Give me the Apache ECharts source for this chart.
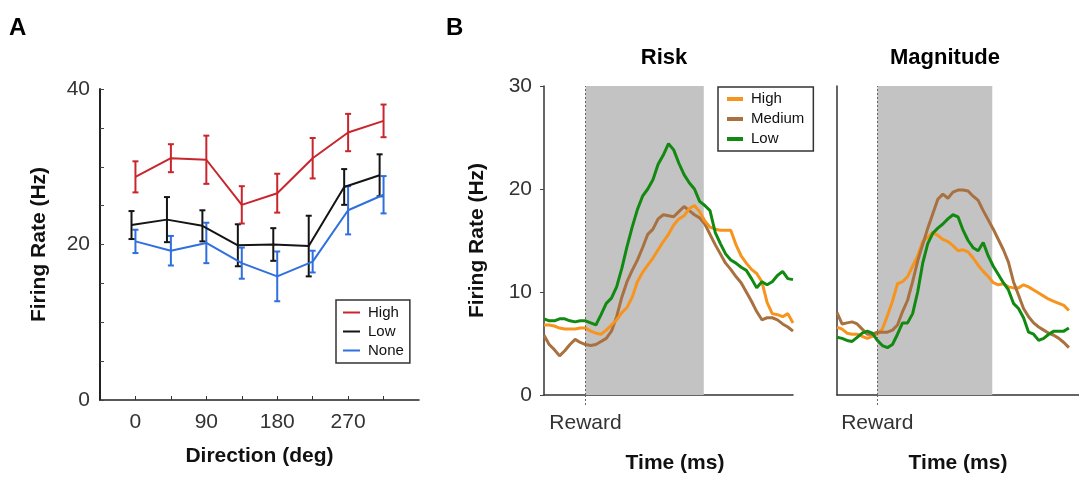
<!DOCTYPE html>
<html>
<head>
<meta charset="utf-8">
<script src="https://cdn.jsdelivr.net/npm/echarts@6/dist/echarts.min.js"></script>
<style>
html,body{margin:0;padding:0;background:#fff;}
#chart{width:1079px;height:479px;}
</style>
</head>
<body>
<div id="chart"></div>
<script>
// ---------- Panel A data ----------
var directions = [0, 45, 90, 135, 180, 225, 270, 315];
var dirTickLabels = [0, 90, 180, 270];
var rateTickLabelsA = [0, 20, 40];
var seriesNamesA = ['High', 'Low', 'None'];
var highMean = [28.7, 31.1, 30.9, 25.1, 26.6, 31.1, 34.4, 35.9];
var highErr  = [2.0, 1.8, 3.1, 2.4, 2.5, 2.6, 2.4, 2.1];
var lowMean  = [22.5, 23.2, 22.4, 19.9, 20.0, 19.8, 27.4, 28.9];
var lowErr   = [1.8, 2.9, 2.0, 2.7, 2.1, 3.9, 2.3, 2.7];
var noneMean = [20.4, 19.2, 20.2, 17.6, 15.9, 17.8, 24.4, 26.4];
var noneErr  = [1.5, 1.9, 2.6, 2.0, 3.2, 1.4, 3.1, 2.4];

// ---------- Panel B data ----------
var timeMs = [-200,-175,-150,-125,-100,-75,-50,-25,0,25,50,75,100,125,150,175,200,225,250,275,300,325,350,375,400,425,450,475,500,525,550,575,600,625,650,675,700,725,750,775,800,825,850,875,900,925,950,975,1000];
var rewardWindow = [0, 570];
var seriesNamesB = ['High', 'Medium', 'Low'];
var riskHigh = [6.8,6.8,6.7,6.5,6.4,6.4,6.4,6.5,6.5,6.2,6.0,5.9,6.3,6.8,7.3,8.0,8.5,9.5,11.0,11.9,12.6,13.3,14.1,14.9,15.6,16.5,17.1,17.4,18.1,18.4,17.8,16.9,16.3,16.1,16.0,16.0,16.0,14.6,13.5,12.8,12.2,11.8,11.0,9.0,7.9,7.8,7.6,7.9,7.0];
var riskMedium = [5.8,4.9,4.4,3.8,4.3,4.9,5.4,5.1,4.9,4.8,4.9,5.2,5.5,6.2,7.6,9.5,11.0,12.1,13.1,14.3,15.6,16.1,17.1,17.5,17.4,17.3,17.8,18.3,17.9,17.5,17.2,16.6,15.6,14.6,13.7,12.8,12.2,11.5,10.9,10.0,9.1,8.1,7.3,7.5,7.5,7.3,6.9,6.6,6.2];
var riskLow = [7.4,7.2,7.2,7.4,7.4,7.2,7.1,7.2,7.2,7.0,6.8,7.8,8.9,9.4,10.5,12.3,14.4,16.3,18.0,19.3,20.0,20.9,22.4,23.3,24.4,23.8,22.5,21.4,20.6,20.0,18.8,18.4,17.9,15.8,14.7,13.7,13.1,12.8,12.4,12.1,11.3,10.4,11.0,10.7,11.0,11.6,12.0,11.3,11.2];
var magHigh = [6.6,6.4,6.0,5.9,5.9,5.7,5.5,5.7,5.9,6.4,7.7,9.1,10.8,11.0,11.5,12.5,13.5,14.9,15.3,15.8,15.5,15.1,14.9,14.5,14.0,14.1,13.9,13.3,12.6,12.0,11.5,10.9,10.7,10.8,10.5,10.4,10.4,10.7,10.5,10.2,9.9,9.6,9.3,9.1,8.9,8.7,8.2];
var magMedium = [8.0,6.9,7.0,7.1,6.9,6.4,5.9,5.9,6.1,6.1,6.1,6.3,6.8,8.1,9.2,11.0,13.0,14.6,16.2,17.6,19.0,19.5,19.1,19.7,19.9,19.9,19.8,19.3,18.9,17.9,17.0,16.1,15.1,14.1,12.9,11.0,9.7,8.4,7.6,7.0,6.6,6.3,6.0,5.8,5.5,5.1,4.6];
var magLow = [5.6,5.5,5.3,5.2,5.6,6.0,6.2,6.0,5.3,4.8,4.6,4.9,5.9,7.0,7.0,7.9,10.0,12.8,14.7,15.7,16.2,16.6,17.1,17.5,17.3,16.0,15.0,14.3,14.0,14.8,13.5,12.5,11.7,10.9,10.2,8.9,8.4,7.5,6.1,5.9,5.3,5.5,5.9,6.2,6.2,6.2,6.5];
var rateTicksB = [0, 10, 20, 30];

// ---------- styles ----------
var FONT = "'Liberation Sans', Arial, sans-serif";
var colA = {High: '#c8262c', Low: '#141414', None: '#2f6fe0'};
var colB = {High: '#f7941d', Medium: '#a8713f', Low: '#128a12'};
var lowOffset = -5; // slight horizontal dodge of the Low series in panel A

function pairs(xs, ys, off) {
  var out = [];
  for (var i = 0; i < ys.length; i++) out.push([xs[i] + (off || 0), ys[i]]);
  return out;
}
function errData(xs, m, e, off) {
  var out = [];
  for (var i = 0; i < m.length; i++) out.push([xs[i] + (off || 0), m[i] - e[i], m[i] + e[i]]);
  return out;
}
function errSeries(name, data, color) {
  return {
    type: 'custom', name: name + ' err', xAxisIndex: 0, yAxisIndex: 0, z: 3, silent: true,
    data: data,
    renderItem: function (params, api) {
      var x = api.value(0);
      var lo = api.coord([x, api.value(1)]);
      var hi = api.coord([x, api.value(2)]);
      var cw = 3;
      var st = {stroke: color, lineWidth: 2};
      return {type: 'group', children: [
        {type: 'line', shape: {x1: lo[0], y1: lo[1], x2: hi[0], y2: hi[1]}, style: st},
        {type: 'line', shape: {x1: lo[0] - cw, y1: lo[1], x2: lo[0] + cw, y2: lo[1]}, style: st},
        {type: 'line', shape: {x1: hi[0] - cw, y1: hi[1], x2: hi[0] + cw, y2: hi[1]}, style: st}
      ]};
    }
  };
}
function lineA(name, data) {
  return {type: 'line', name: name, xAxisIndex: 0, yAxisIndex: 0, data: data, symbol: 'none',
    color: colA[name], lineStyle: {width: 2, color: colA[name]}, z: 4, silent: true};
}
function lineB(prefix, key, vals, axis) {
  return {type: 'line', name: prefix + key, xAxisIndex: axis, yAxisIndex: axis,
    data: pairs(timeMs, vals), showSymbol: false, symbol: 'none',
    color: colB[key], lineStyle: {width: 3, color: colB[key]}, z: 4, silent: true};
}
function bgSeries(axis) {
  return {type: 'line', name: 'bg' + axis, xAxisIndex: axis, yAxisIndex: axis, data: [], z: 1, silent: true,
    markArea: {silent: true, itemStyle: {color: '#c3c3c3'}, data: [[{xAxis: rewardWindow[0]}, {xAxis: rewardWindow[1]}]]},
    markLine: {silent: true, symbol: ['none', 'none'], label: {show: false},
      lineStyle: {type: [2, 2], color: '#666', width: 1}, data: [{xAxis: rewardWindow[0]}]}
  };
}
function timeAxis(idx, padLeft) {
  return {
    type: 'value', gridIndex: idx, min: timeMs[0], max: timeMs[timeMs.length - 1],
    name: 'Time (ms)', nameLocation: 'middle', nameGap: 58,
    nameTextStyle: {fontFamily: FONT, fontSize: 21, fontWeight: 'bold', color: '#111', padding: [0, 0, 0, padLeft]},
    axisLine: {show: true, onZero: false, lineStyle: {color: '#333', width: 1.5}},
    axisTick: {show: true, customValues: [rewardWindow[0]], inside: false, length: 12,
      lineStyle: {type: [2, 2], color: '#666', width: 1}},
    axisLabel: {show: true, customValues: [rewardWindow[0]], formatter: function () { return 'Reward'; },
      margin: 18, fontFamily: FONT, fontSize: 21, color: '#333'},
    splitLine: {show: false}
  };
}

var chart = echarts.init(document.getElementById('chart'), null, {renderer: 'canvas'});
var option = {
  backgroundColor: '#fff',
  animation: false,
  title: [
    {text: 'A', left: 9, top: 16, padding: 0, textStyle: {fontFamily: FONT, fontSize: 24, fontWeight: 'bold', color: '#000'}},
    {text: 'B', left: 446, top: 16, padding: 0, textStyle: {fontFamily: FONT, fontSize: 24, fontWeight: 'bold', color: '#000'}},
    {text: 'Risk', left: 664, top: 47, padding: 0, textAlign: 'center', textStyle: {fontFamily: FONT, fontSize: 22, fontWeight: 'bold', color: '#000'}},
    {text: 'Magnitude', left: 945, top: 47, padding: 0, textAlign: 'center', textStyle: {fontFamily: FONT, fontSize: 22, fontWeight: 'bold', color: '#000'}}
  ],
  legend: [
    {
      data: seriesNamesA, orient: 'vertical', left: 336, top: 300,
      borderColor: '#333', borderWidth: 1.5, padding: [3, 6, 3, 7], itemGap: 0,
      itemWidth: 17, itemHeight: 2, icon: 'rect', selectedMode: false,
      textStyle: {fontFamily: FONT, fontSize: 15, lineHeight: 19, color: '#111', padding: [0, 0, 0, 3]}
    },
    {
      data: seriesNamesB.map(function (k) { return 'Risk ' + k; }),
      formatter: function (n) { return n.replace('Risk ', ''); },
      orient: 'vertical', left: 718, top: 87,
      borderColor: '#333', borderWidth: 1.5, padding: [2, 9, 2, 9], itemGap: 0,
      itemWidth: 16, itemHeight: 4, icon: 'rect', selectedMode: false,
      textStyle: {fontFamily: FONT, fontSize: 15, lineHeight: 20, color: '#111', padding: [0, 0, 0, 3]}
    }
  ],
  grid: [
    {left: 100, top: 89, width: 319, height: 311},
    {left: 544, top: 86, width: 249, height: 312},
    {left: 837, top: 86, width: 249, height: 312}
  ],
  xAxis: [
    {
      type: 'value', gridIndex: 0, min: -45, max: 360, interval: 45,
      name: 'Direction (deg)', nameLocation: 'middle', nameGap: 46,
      nameTextStyle: {fontFamily: FONT, fontSize: 21, fontWeight: 'bold', color: '#111'},
      axisLine: {show: true, onZero: false, lineStyle: {color: '#222', width: 1.5}},
      axisTick: {show: true, inside: true, length: 4, customValues: directions, lineStyle: {color: '#333'}},
      axisLabel: {customValues: dirTickLabels, margin: 12, fontFamily: FONT, fontSize: 21, color: '#333'},
      splitLine: {show: false}
    },
    timeAxis(1, 13),
    timeAxis(2, 0)
  ],
  yAxis: [
    {
      type: 'value', gridIndex: 0, min: 0, max: 40, interval: 5,
      name: 'Firing Rate (Hz)', nameLocation: 'middle', nameGap: 50,
      nameTextStyle: {fontFamily: FONT, fontSize: 21, fontWeight: 'bold', color: '#111'},
      axisLine: {show: true, onZero: false, lineStyle: {color: '#222', width: 2}},
      axisTick: {show: true, inside: true, length: 4, lineStyle: {color: '#444'}},
      axisLabel: {customValues: rateTickLabelsA, margin: 10, fontFamily: FONT, fontSize: 21, color: '#333'},
      splitLine: {show: false}
    },
    {
      type: 'value', gridIndex: 1, min: 0, max: 30, interval: 10,
      name: 'Firing Rate (Hz)', nameLocation: 'middle', nameGap: 56,
      nameTextStyle: {fontFamily: FONT, fontSize: 21, fontWeight: 'bold', color: '#111'},
      axisLine: {show: true, onZero: false, lineStyle: {color: '#333', width: 1.5}},
      axisTick: {show: true, inside: false, length: 4, customValues: rateTicksB, lineStyle: {color: '#444'}},
      axisLabel: {customValues: rateTicksB, margin: 12, fontFamily: FONT, fontSize: 21, color: '#333'},
      splitLine: {show: false}
    },
    {
      type: 'value', gridIndex: 2, min: 0, max: 30, interval: 10,
      axisLine: {show: true, onZero: false, lineStyle: {color: '#333', width: 1.5}},
      axisTick: {show: false}, axisLabel: {show: false}, splitLine: {show: false}
    }
  ],
  series: [
    errSeries('None', errData(directions, noneMean, noneErr, 0), colA.None),
    lineA('None', pairs(directions, noneMean, 0)),
    errSeries('Low', errData(directions, lowMean, lowErr, lowOffset), colA.Low),
    lineA('Low', pairs(directions, lowMean, lowOffset)),
    errSeries('High', errData(directions, highMean, highErr, 0), colA.High),
    lineA('High', pairs(directions, highMean, 0)),
    bgSeries(1),
    bgSeries(2),
    lineB('Risk ', 'Medium', riskMedium, 1),
    lineB('Risk ', 'High', riskHigh, 1),
    lineB('Risk ', 'Low', riskLow, 1),
    lineB('Mag ', 'High', magHigh, 2),
    lineB('Mag ', 'Medium', magMedium, 2),
    lineB('Mag ', 'Low', magLow, 2)
  ]
};
chart.setOption(option);
</script>
</body>
</html>
